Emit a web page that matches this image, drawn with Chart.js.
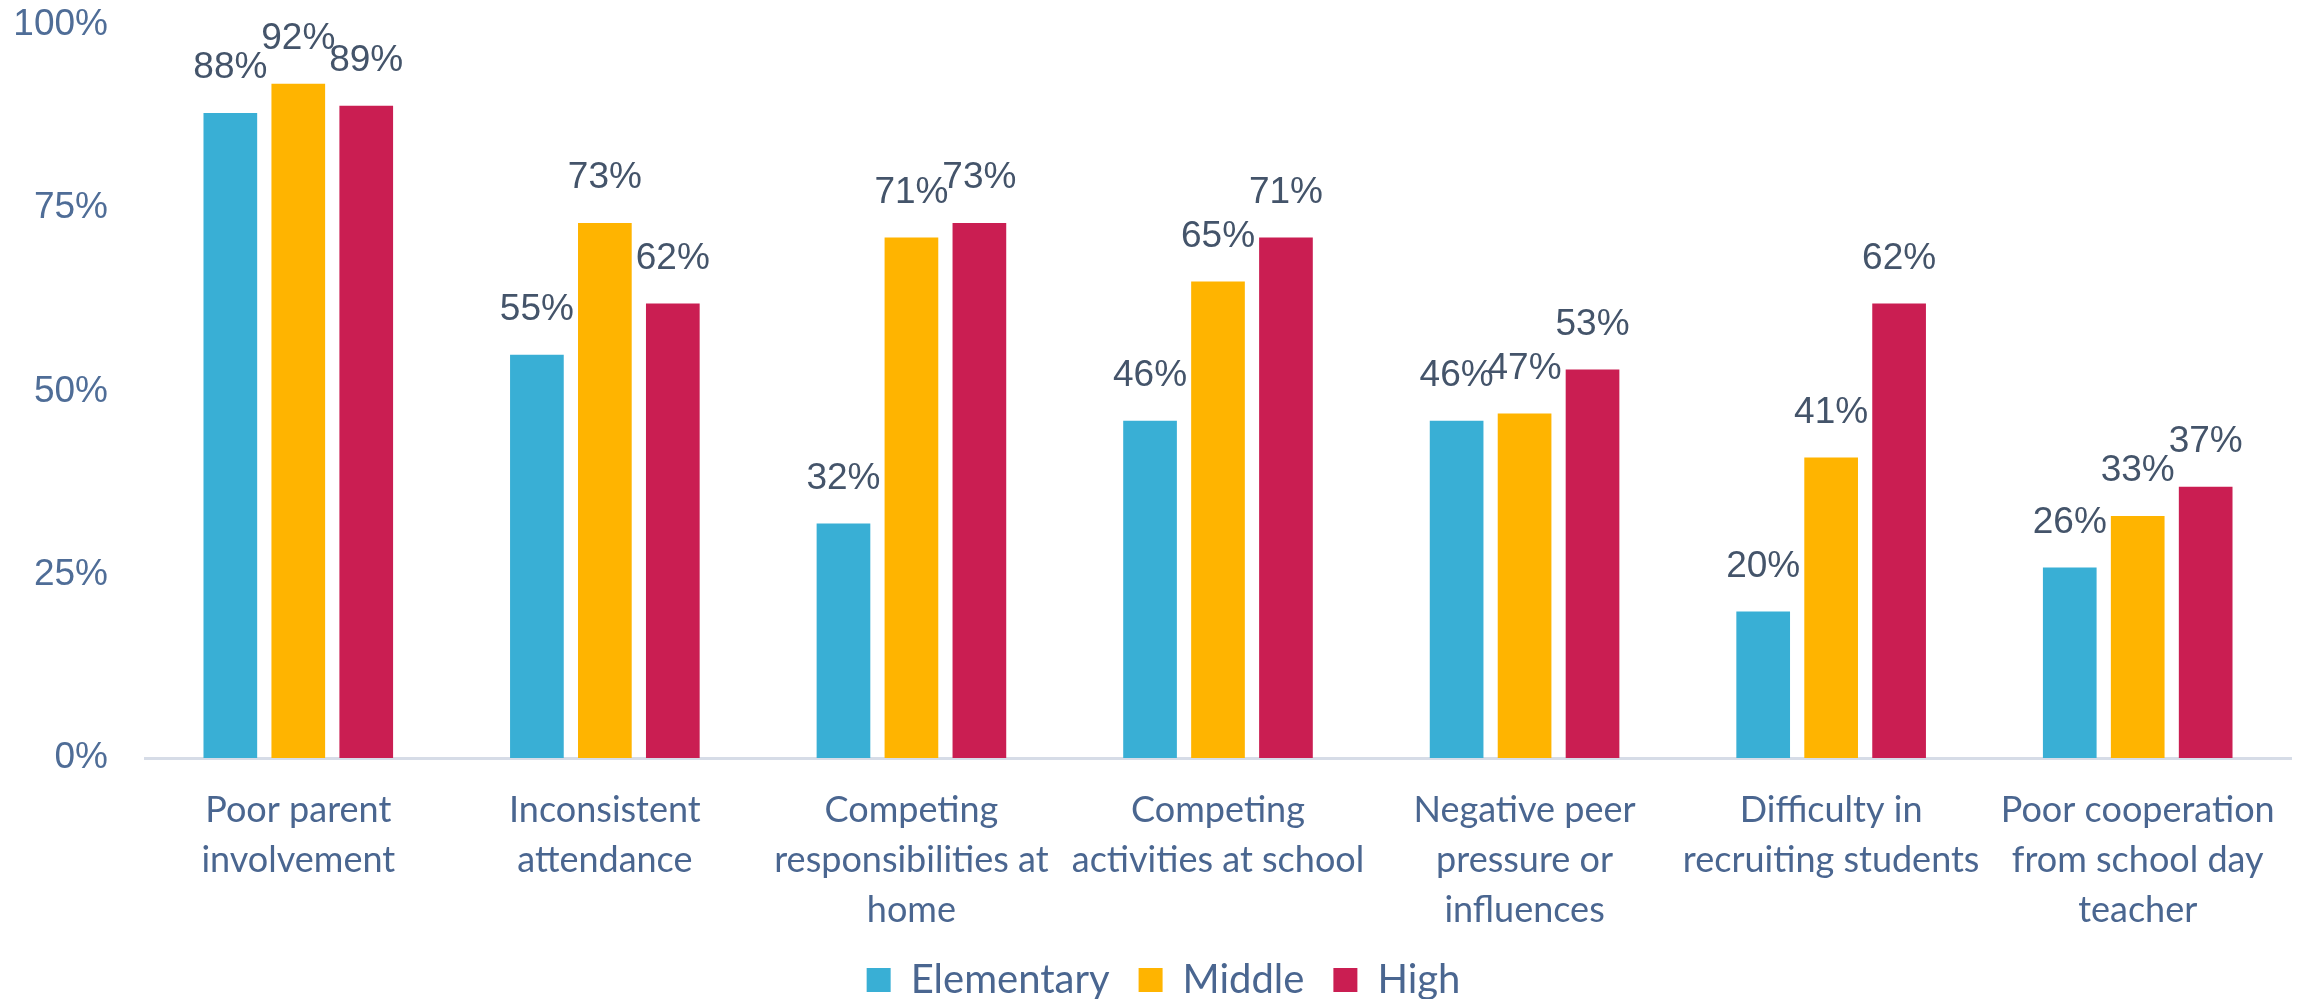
<!DOCTYPE html>
<html>
<head>
<meta charset="utf-8">
<script src="https://cdn.jsdelivr.net/npm/chart.js@4/dist/chart.umd.min.js"></script>
<style>
  html, body { margin: 0; padding: 0; background: #fff; }
  #wrap { width: 2310px; height: 999px; }
</style>
</head>
<body>
<div id="wrap"><canvas id="bars"></canvas></div>
<script>
const categories = [
    ['Poor parent', 'involvement'],
    ['Inconsistent', 'attendance'],
    ['Competing', 'responsibilities at', 'home'],
    ['Competing', 'activities at school'],
    ['Negative peer', 'pressure or', 'influences'],
    ['Difficulty in', 'recruiting students'],
    ['Poor cooperation', 'from school day', 'teacher']
];
const elementary = [88, 55, 32, 46, 46, 20, 26];
const middle = [92, 73, 71, 65, 47, 41, 33];
const high = [89, 62, 73, 71, 53, 62, 37];
const yTicks = [0, 25, 50, 75, 100];

const AXIS_BOTTOM = 758;
const LEGEND_H = 68;

// value labels above each bar
const barLabels = {
    id: 'barLabels',
    afterDatasetsDraw(chart) {
        const ctx = chart.ctx;
        ctx.save();
        ctx.font = '37px "Liberation Sans", Arial, sans-serif';
        ctx.fillStyle = '#44546a';
        ctx.textAlign = 'center';
        ctx.textBaseline = 'middle';
        chart.data.datasets.forEach((ds, i) => {
            chart.getDatasetMeta(i).data.forEach((bar, j) => {
                ctx.fillText(ds.data[j] + '%', bar.x, bar.y - 45);
            });
        });
        ctx.restore();
    }
};

// keep the legend short and nudge it a bit to the right
const legendTweak = {
    id: 'legendTweak',
    afterInit(chart) {
        const legend = chart.legend;
        const fit = legend.fit;
        legend.fit = function () {
            fit.call(this);
            this.height = LEGEND_H;
        };
        const draw = legend.draw;
        legend.draw = function () {
            this.ctx.save();
            this.ctx.translate(18, 0);
            draw.call(this);
            this.ctx.restore();
        };
    }
};

const ctx = document.getElementById('bars').getContext('2d');
const myChart = new Chart(ctx, {
    type: 'bar',
    data: {
        labels: categories,
        datasets: [{
            label: 'Elementary',
            data: elementary,
            backgroundColor: 'rgb(57, 175, 213)'
        }, {
            label: 'Middle',
            data: middle,
            backgroundColor: 'rgb(255, 180, 0)'
        }, {
            label: 'High',
            data: high,
            backgroundColor: 'rgb(202, 30, 82)'
        }]
    },
    options: {
        responsive: true,
        maintainAspectRatio: false,
        animation: false,
        datasets: {
            bar: { categoryPercentage: 0.665, barPercentage: 0.79 }
        },
        layout: { padding: { top: 25, right: 19, left: 0, bottom: 0 } },
        plugins: {
            tooltip: { enabled: false },
            legend: {
                position: 'bottom',
                labels: {
                    boxWidth: 24,
                    boxHeight: 24,
                    padding: 29,
                    color: '#4a6690',
                    font: { family: 'Lato', size: 40 }
                }
            }
        },
        scales: {
            x: {
                grid: { display: false, drawTicks: false },
                border: { display: true, color: '#d6dce7', width: 3 },
                ticks: {
                    autoSkip: false,
                    maxRotation: 0,
                    padding: 27,
                    color: '#4a6690',
                    font: { family: 'Lato', size: 36, lineHeight: 50 / 36 }
                },
                afterFit(scale) {
                    scale.height = scale.chart.height - AXIS_BOTTOM - LEGEND_H;
                    scale.paddingLeft = 0;
                    scale.paddingRight = 0;
                    // don't clip the three-line labels
                    scale._computeLabelArea = () => undefined;
                }
            },
            y: {
                min: 0,
                max: 100,
                afterBuildTicks(scale) {
                    scale.ticks = yTicks.map(v => ({ value: v }));
                },
                grid: { display: false, drawTicks: false },
                border: { display: false },
                ticks: {
                    padding: 37,
                    color: '#4f6d97',
                    font: { family: '"Liberation Sans", Arial, sans-serif', size: 37 },
                    callback: v => v + '%'
                },
                afterFit(scale) {
                    scale.width = 145;
                    scale.paddingTop = 0;
                    scale.paddingBottom = 0;
                }
            }
        }
    },
    plugins: [barLabels, legendTweak]
});
</script>
</body>
</html>
